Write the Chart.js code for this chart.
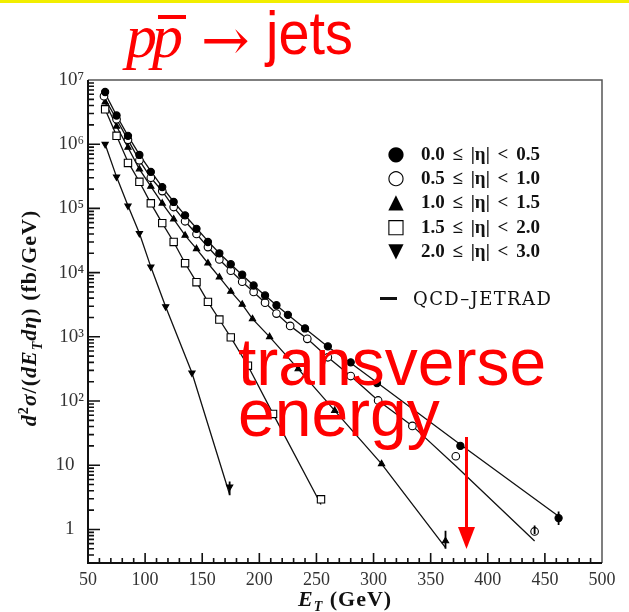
<!DOCTYPE html>
<html>
<head>
<meta charset="utf-8">
<script src="https://cdn.jsdelivr.net/npm/chart.js@4.4.1/dist/chart.umd.min.js"></script>
<style>
    body { margin: 0; background: #fff; }
    #wrap { position: relative; width: 629px; height: 612px; overflow: hidden; background: #fff; }
    #chart { position: absolute; left: 0; top: 0; }
    .abs { position: absolute; white-space: nowrap; line-height: 1; }
    .red { color: #ff0000; }
    .leg { font-family: "Liberation Serif", serif; font-weight: bold; font-size: 19px; color: #111; word-spacing: 3px; }
    .mk { font-family: "DejaVu Sans", sans-serif; font-size: 20px; color: #000; text-align: center; width: 20px; }
</style>
</head>
<body>
<div id="wrap">
    <div class="abs" style="left:0;top:0;width:629px;height:3px;background:#f2ee00;"></div>
    <canvas id="chart" width="629" height="612"></canvas>

    <!-- title -->
    <div class="abs red" style="left:126px;top:5px;font-family:'Liberation Serif',serif;font-style:italic;font-size:62px;">p</div>
    <div class="abs red" style="left:152px;top:5px;font-family:'Liberation Serif',serif;font-style:italic;font-size:62px;">p</div>
    <div class="abs" style="left:158px;top:15px;width:28px;height:4px;background:#ff0000;"></div>
    <div class="abs red" style="left:201px;top:11px;font-family:'DejaVu Serif',serif;font-size:58px;">→</div>
    <div class="abs red" style="left:266px;top:2px;font-family:'Liberation Sans',sans-serif;font-size:62px;transform:scaleX(0.9);transform-origin:left top;">jets</div>

    <!-- annotation -->
    <div class="abs red" style="left:238px;top:329px;font-family:'Liberation Sans',sans-serif;font-size:66px;">transverse</div>
    <div class="abs red" style="left:238px;top:380px;font-family:'Liberation Sans',sans-serif;font-size:66px;">energy</div>
    <svg class="abs" style="left:0;top:0;" width="629" height="612">
        <line x1="466.5" y1="437" x2="466.5" y2="530" stroke="#ff0000" stroke-width="3"/>
        <polygon points="458,527 475,527 466.5,549" fill="#ff0000"/>
    </svg>

    <!-- legend -->
    <div class="abs mk" style="left:386px;top:143px;">●</div>
    <div class="abs mk" style="left:386px;top:167px;">○</div>
    <div class="abs mk" style="left:386px;top:191px;">▲</div>
    <div class="abs mk" style="left:386px;top:216px;">□</div>
    <div class="abs mk" style="left:386px;top:240px;">▼</div>
    <div class="abs leg" style="left:421px;top:144px;">0.0 ≤ |η| &lt; 0.5</div>
    <div class="abs leg" style="left:421px;top:168px;">0.5 ≤ |η| &lt; 1.0</div>
    <div class="abs leg" style="left:421px;top:192px;">1.0 ≤ |η| &lt; 1.5</div>
    <div class="abs leg" style="left:421px;top:217px;">1.5 ≤ |η| &lt; 2.0</div>
    <div class="abs leg" style="left:421px;top:241px;">2.0 ≤ |η| &lt; 3.0</div>
    <div class="abs" style="left:380px;top:297px;width:17px;height:3px;background:#111;"></div>
    <div class="abs" style="left:413px;top:290px;font-family:'DejaVu Serif',serif;font-size:18px;letter-spacing:1.4px;color:#111;">QCD–JETRAD</div>

    <!-- axis titles -->
    <div class="abs" style="left:31px;top:318px;font-family:'Liberation Serif',serif;font-weight:bold;font-size:22px;letter-spacing:1px;color:#111;transform:translate(-50%,-50%) rotate(-90deg);">
        <i>d</i><sup style="font-size:14px;">2</sup><i>σ</i>/(<i>dE<sub style="font-size:14px;">T</sub>dη</i>) (fb/GeV)
    </div>
    <div class="abs" style="left:298px;top:588px;font-family:'Liberation Serif',serif;font-weight:bold;font-size:22px;letter-spacing:1px;color:#111;">
        <i>E<sub style="font-size:14px;">T</sub></i> (GeV)
    </div>
</div>

<script>
// 0.0 <= |eta| < 0.5 (filled circles)
const etA = [65, 75, 85, 95, 105, 115, 125, 135, 145, 155, 165, 175, 185, 195, 205, 215, 225, 240, 260, 280, 303, 376, 462];
const dataA = [6.5e6, 2.8e6, 1.35e6, 6.8e5, 3.7e5, 2.15e5, 1.26e5, 7.8e4, 4.8e4, 3.0e4, 2.0e4, 1.35e4, 9.3e3, 6.3e3, 4.4e3, 3.1e3, 2.2e3, 1.35e3, 710, 400, 190, 20, 1.5];
const qcdA = [6.2e6, 2.8e6, 1.35e6, 6.9e5, 3.8e5, 2.15e5, 1.27e5, 7.8e4, 4.9e4, 3.1e4, 2.0e4, 1.35e4, 9.2e3, 6.3e3, 4.4e3, 3.1e3, 2.2e3, 1.35e3, 700, 390, 195, 21, 1.6];

// 0.5 <= |eta| < 1.0 (open circles)
const etB = [64, 75, 85, 95, 105, 115, 125, 135, 145, 155, 165, 175, 185, 195, 205, 215, 227, 242, 260, 280, 304, 334, 372, 441];
const dataB = [5.6e6, 2.45e6, 1.17e6, 5.6e5, 3.0e5, 1.86e5, 1.05e5, 6.3e4, 4.0e4, 2.5e4, 1.6e4, 1.07e4, 7.2e3, 5.0e3, 3.4e3, 2.3e3, 1.48e3, 930, 480, 245, 102, 41, 13.8, 0.93];
const qcdB = [5.4e6, 2.45e6, 1.17e6, 5.6e5, 3.0e5, 1.86e5, 1.05e5, 6.3e4, 4.0e4, 2.5e4, 1.6e4, 1.07e4, 7.2e3, 5.0e3, 3.4e3, 2.3e3, 1.48e3, 930, 480, 245, 102, 41, 9.7, 0.66];

// 1.0 <= |eta| < 1.5 (triangles)
const etC = [65, 75, 85, 95, 105, 115, 125, 135, 145, 155, 165, 175, 185, 194, 209, 234, 266, 307, 363];
const dataC = [4.5e6, 1.9e6, 8.9e5, 4.1e5, 2.2e5, 1.2e5, 6.8e4, 3.8e4, 2.35e4, 1.4e4, 8.5e3, 5.1e3, 3.2e3, 1.9e3, 1.0e3, 316, 71, 10.5, 0.66];
const qcdC = [4.5e6, 1.9e6, 8.9e5, 4.1e5, 2.2e5, 1.2e5, 6.8e4, 3.8e4, 2.35e4, 1.4e4, 8.5e3, 5.1e3, 3.2e3, 1.9e3, 1.0e3, 316, 71, 10.5, 0.52];

// 1.5 <= |eta| < 2.0 (open squares)
const etD = [65, 75, 85, 95, 105, 115, 125, 135, 145, 155, 165, 175, 190, 212, 254];
const dataD = [3.5e6, 1.35e6, 5.1e5, 2.6e5, 1.2e5, 5.9e4, 3.0e4, 1.4e4, 7.1e3, 3.5e3, 1.86e3, 980, 355, 63, 2.95];
const qcdD = [3.5e6, 1.35e6, 5.3e5, 2.6e5, 1.2e5, 5.9e4, 3.0e4, 1.4e4, 7.1e3, 3.5e3, 1.86e3, 980, 355, 63, 2.45];

// 2.0 <= |eta| < 3.0 (down triangles)
const etE = [65, 75, 85, 95, 105, 118, 141, 174];
const dataE = [1.0e6, 3.1e5, 1.1e5, 4.1e4, 1.23e4, 2950, 275, 4.6];
const qcdE = [1.0e6, 3.1e5, 1.1e5, 4.1e4, 1.23e4, 2950, 275, 3.5];

// error bars on the last points
const errEt = [462, 441, 363, 174];
const errLo = [1.17, 0.85, 0.5, 3.4];
const errHi = [1.9, 1.15, 0.95, 5.6];

// axes
const xTicks = [50, 100, 150, 200, 250, 300, 350, 400, 450, 500];
const yDecades = [1, 10, 1e2, 1e3, 1e4, 1e5, 1e6, 1e7];
const yLabels = ["1\u2002", "10\u2002", "10²", "10³", "10⁴", "10⁵", "10⁶", "10⁷"];

const points = (xs, ys) => xs.map((x, i) => ({ x, y: ys[i] }));

const markers = [
    { et: etA, data: dataA, style: "circle", bg: "#000", r: 3.6, rot: 0 },
    { et: etB, data: dataB, style: "circle", bg: "#fff", r: 3.8, rot: 0 },
    { et: etC, data: dataC, style: "triangle", bg: "#000", r: 3.6, rot: 0 },
    { et: etD, data: dataD, style: "rect", bg: "#fff", r: 5.2, rot: 0 },
    { et: etE, data: dataE, style: "triangle", bg: "#000", r: 3.6, rot: 180 }
];
const theory = [[etA, qcdA], [etB, qcdB], [etC, qcdC], [etD, qcdD], [etE, qcdE]];

const datasets = [];
theory.forEach(([xs, ys]) => {
    datasets.push({
        data: points(xs, ys),
        showLine: true,
        borderColor: "#111",
        borderWidth: 1.3,
        pointRadius: 0,
        order: 1
    });
});
markers.forEach(m => {
    datasets.push({
        data: points(m.et, m.data),
        showLine: false,
        pointStyle: m.style,
        rotation: m.rot,
        pointRadius: m.r,
        pointBackgroundColor: m.bg,
        pointBorderColor: "#000",
        pointBorderWidth: 1.1,
        order: 0
    });
});

const framePlugin = {
    id: "frame",
    beforeDatasetsDraw(chart) {
        const { ctx, chartArea: a, scales: { x, y } } = chart;
        ctx.save();
        ctx.strokeStyle = "#555";
        ctx.lineWidth = 1.5;
        ctx.beginPath();
        ctx.moveTo(a.left, a.top);
        ctx.lineTo(a.right, a.top);
        ctx.lineTo(a.right, a.bottom);
        ctx.stroke();

        ctx.strokeStyle = "#111";
        ctx.lineWidth = 2;
        ctx.beginPath();
        ctx.moveTo(a.left, a.top);
        ctx.lineTo(a.left, a.bottom);
        ctx.lineTo(a.right, a.bottom);
        ctx.stroke();

        ctx.lineWidth = 1.6;
        ctx.beginPath();
        for (let v = 60; v < 500; v += 10) {
            const px = x.getPixelForValue(v);
            const len = v % 50 === 0 ? 10 : 5;
            ctx.moveTo(px, a.bottom);
            ctx.lineTo(px, a.bottom - len);
        }
        for (let d = 0.1; d <= 1e6; d *= 10) {
            for (let m = 1; m <= 9; m++) {
                const v = m * d;
                if (v < y.min || v > y.max) continue;
                const py = y.getPixelForValue(v);
                const len = m === 1 ? 12 : 6;
                ctx.moveTo(a.left, py);
                ctx.lineTo(a.left + len, py);
            }
        }
        ctx.stroke();
        ctx.restore();
    },
    afterDatasetsDraw(chart) {
        const { ctx, scales: { x, y } } = chart;
        ctx.save();
        ctx.strokeStyle = "#000";
        ctx.lineWidth = 1.8;
        ctx.beginPath();
        errEt.forEach((e, i) => {
            const px = x.getPixelForValue(e);
            ctx.moveTo(px, y.getPixelForValue(errLo[i]));
            ctx.lineTo(px, y.getPixelForValue(errHi[i]));
        });
        ctx.stroke();
        ctx.restore();
    }
};

new Chart(document.getElementById("chart"), {
    type: "scatter",
    data: { datasets },
    options: {
        responsive: false,
        animation: false,
        layout: { padding: { left: 0, right: 27, top: 80, bottom: 0 } },
        plugins: { legend: { display: false }, tooltip: { enabled: false } },
        scales: {
            x: {
                type: "linear",
                min: 50,
                max: 500,
                afterBuildTicks: scale => { scale.ticks = xTicks.map(value => ({ value })); },
                afterFit: scale => { scale.height = 49; },
                grid: { display: false, drawTicks: false },
                border: { display: false },
                ticks: {
                    padding: 6,
                    color: "#333",
                    font: { family: "Liberation Serif, serif", size: 18 },
                    maxRotation: 0
                }
            },
            y: {
                type: "logarithmic",
                min: 0.303,
                max: 1e7,
                afterBuildTicks: scale => { scale.ticks = yDecades.map(value => ({ value })); },
                afterFit: scale => { scale.width = 88; },
                grid: { display: false, drawTicks: false },
                border: { display: false },
                ticks: {
                    padding: 4,
                    color: "#333",
                    font: { family: "Liberation Serif, serif", size: 19 },
                    callback: value => yLabels[yDecades.indexOf(value)] ?? ""
                }
            }
        }
    },
    plugins: [framePlugin]
});
</script>
</body>
</html>
